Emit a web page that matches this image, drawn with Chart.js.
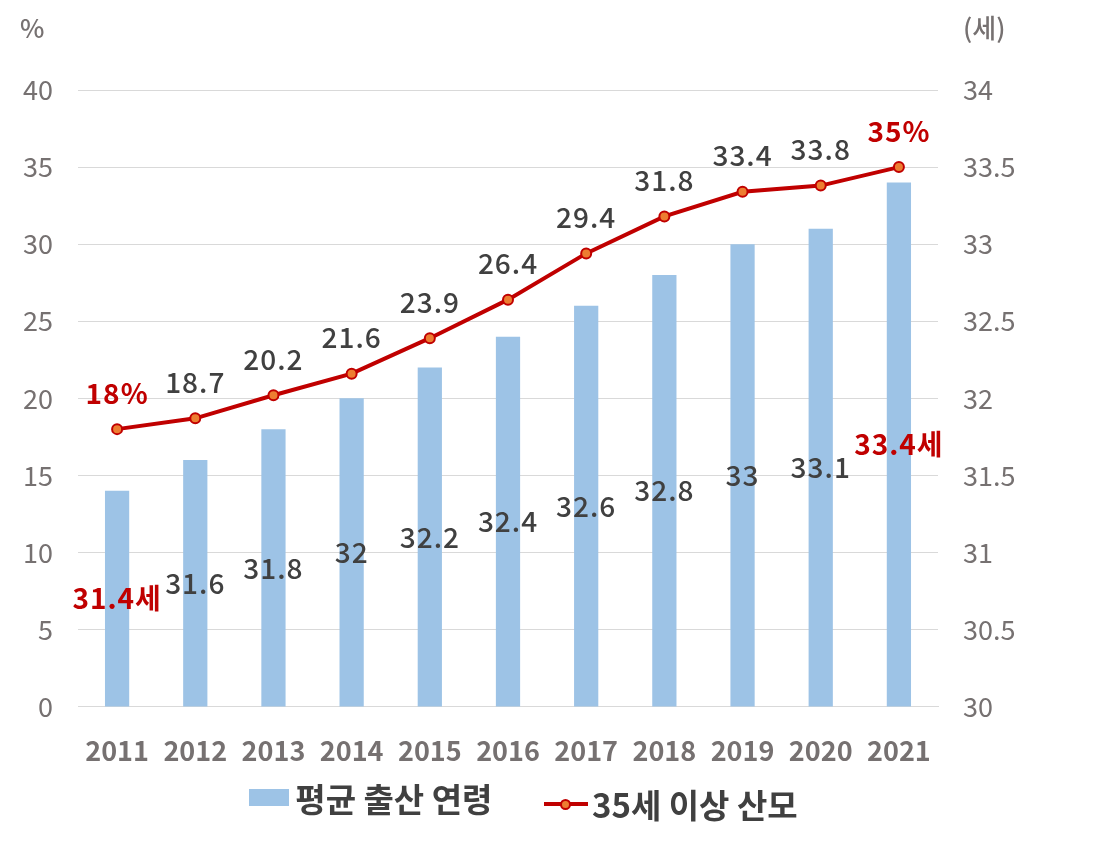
<!DOCTYPE html>
<html>
<head>
<meta charset="utf-8">
<script src="https://cdn.jsdelivr.net/npm/chart.js@4"></script>
<style>
  body { margin: 0; background: #fff; font-family: "Noto Sans CJK KR", sans-serif; }
  #wrap { position: relative; width: 1103px; height: 843px; }
  .unit { position: absolute; top: 8px; font-size: 26px; color: #767171; font-weight: 500; }
  #legend { position: absolute; top: 768px; left: -28px; width: 1103px; text-align: center; font-size: 33px; font-weight: 700; color: #404040; white-space: nowrap; }
  .item { display: inline-flex; align-items: center; margin: 0 22px; }
  .sw-bar { width: 40px; height: 17px; background: #9DC3E6; margin-right: 6px; }
  .sw-line { position: relative; width: 44px; height: 4px; background: #C00000; margin-right: 4px; }
  .sw-line i { position: absolute; left: 16px; width: 11px; height: 11px; border-radius: 50%; background: #ED7D31; border: 2px solid #C00000; box-sizing: border-box; top: -3.5px; }
</style>
</head>
<body>
<div id="wrap">
  <canvas id="chart" width="1103" height="843"></canvas>
  <div class="unit" style="left:20px">%</div>
  <div class="unit" style="left:963px">(세)</div>
  <div id="legend">
    <span class="item"><span class="sw-bar"></span>평균 출산 연령</span>
    <span class="item"><span class="sw-line"><i></i></span>35세 이상 산모</span>
  </div>
</div>
<script>
const years = ['2011', '2012', '2013', '2014', '2015', '2016', '2017', '2018', '2019', '2020', '2021'];
const avgAge = [31.4, 31.6, 31.8, 32, 32.2, 32.4, 32.6, 32.8, 33, 33.1, 33.4];
const over35 = [18, 18.7, 20.2, 21.6, 23.9, 26.4, 29.4, 31.8, 33.4, 33.8, 35];

const dark = '#404040';
const red = '#C00000';

// value labels: bars in the middle of the bar, line points above
const valueLabels = {
    id: 'valueLabels',
    afterDatasetsDraw(chart) {
        const ctx = chart.ctx;
        const base = chart.scales.yR.getPixelForValue(30);
        const last = years.length - 1;
        ctx.save();
        ctx.textAlign = 'center';
        ctx.textBaseline = 'middle';
        ctx.letterSpacing = '1px';
        chart.getDatasetMeta(0).data.forEach((bar, i) => {
            const edge = i === 0 || i === last;
            ctx.font = (edge ? '700' : '500') + ' 28px "Noto Sans CJK KR"';
            ctx.fillStyle = edge ? red : dark;
            const txt = edge ? avgAge[i] + '세' : String(avgAge[i]);
            ctx.fillText(txt, bar.x, (bar.y + base) / 2);
        });
        chart.getDatasetMeta(1).data.forEach((pt, i) => {
            const edge = i === 0 || i === last;
            ctx.font = (edge ? '700' : '500') + ' 28px "Noto Sans CJK KR"';
            ctx.fillStyle = edge ? red : dark;
            const txt = edge ? over35[i] + '%' : String(over35[i]);
            ctx.fillText(txt, pt.x, pt.y - 36);
        });
        ctx.restore();
    }
};

new Chart(document.getElementById('chart'), {
    type: 'bar',
    data: {
        labels: years,
        datasets: [
            {
                label: '평균 출산 연령',
                data: avgAge,
                yAxisID: 'yR',
                backgroundColor: '#9DC3E6',
                barPercentage: 0.31,
                categoryPercentage: 1,
                order: 2
            },
            {
                type: 'line',
                label: '35세 이상 산모',
                data: over35,
                yAxisID: 'yL',
                borderColor: red,
                borderWidth: 4,
                pointRadius: 5,
                pointBorderWidth: 2,
                pointBackgroundColor: '#ED7D31',
                pointBorderColor: red,
                tension: 0,
                order: 1
            }
        ]
    },
    options: {
        responsive: false,
        animation: false,
        layout: { padding: { top: 90, bottom: 56, left: 0, right: 0 } },
        plugins: { legend: { display: false }, tooltip: { enabled: false } },
        scales: {
            x: {
                grid: { display: false },
                border: { color: '#d9d9d9' },
                ticks: { color: '#767171', font: { size: 27, weight: 'bold', family: 'Noto Sans CJK KR' }, padding: 20 }
            },
            yL: {
                position: 'left',
                min: 0, max: 40,
                ticks: { stepSize: 5, color: '#767171', font: { size: 27, family: 'Noto Sans CJK KR' }, padding: 25 },
                grid: { color: '#d9d9d9', drawTicks: false },
                border: { display: false },
                afterFit(s) { s.width = 78; }
            },
            yR: {
                position: 'right',
                min: 30, max: 34,
                ticks: {
                    stepSize: 0.5, color: '#767171', font: { size: 27, family: 'Noto Sans CJK KR' }, padding: 25,
                    callback: v => String(v)
                },
                grid: { display: false, drawTicks: false },
                border: { display: false },
                afterFit(s) { s.width = 165; }
            }
        }
    },
    plugins: [valueLabels]
});
</script>
</body>
</html>
